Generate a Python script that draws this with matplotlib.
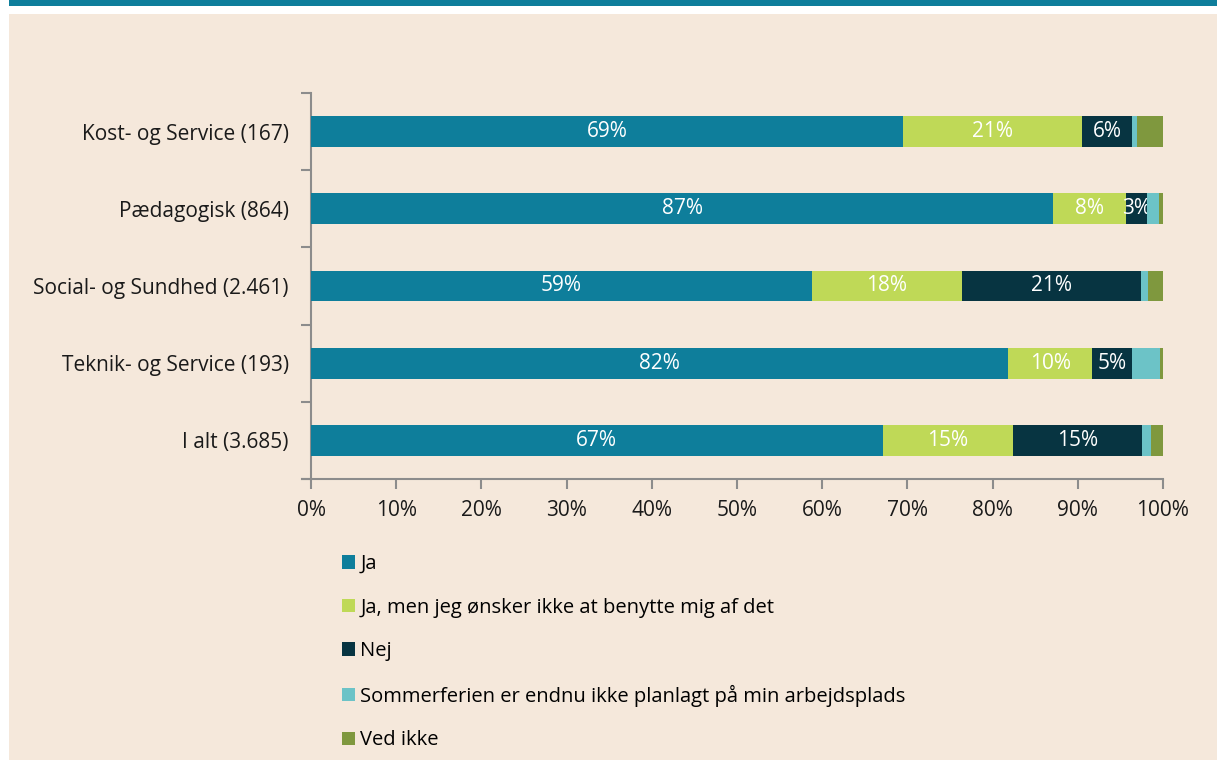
import matplotlib
matplotlib.use("Agg")
import matplotlib.pyplot as plt
from matplotlib.patches import Rectangle
from matplotlib.ticker import FixedLocator, PercentFormatter

categories = ["Kost- og Service (167)", "Pædagogisk (864)", "Social- og Sundhed (2.461)",
              "Teknik- og Service (193)", "I alt (3.685)"]
series_names = ["Ja", "Ja, men jeg ønsker ikke at benytte mig af det", "Nej",
                "Sommerferien er endnu ikke planlagt på min arbejdsplads", "Ved ikke"]
ja = [69.5, 87.1, 58.8, 81.8, 67.1]
ja_men = [21.0, 8.6, 17.6, 9.9, 15.3]
nej = [5.9, 2.4, 21.0, 4.7, 15.1]
sommer = [0.6, 1.4, 0.8, 3.2, 1.1]
ved_ikke = [3.0, 0.5, 1.8, 0.4, 1.4]
label_ja = ["69%", "87%", "59%", "82%", "67%"]
label_ja_men = ["21%", "8%", "18%", "10%", "15%"]
label_nej = ["6%", "3%", "21%", "5%", "15%"]
x_ticks = [0, 10, 20, 30, 40, 50, 60, 70, 80, 90, 100]

colors = ["#0E7E9B", "#BFD957", "#073441", "#6CC3C7", "#7F983E"]
bg = "#F5E8DB"

plt.rcParams['font.family'] = ['Open Sans', 'DejaVu Sans']
FS = 15

fig = plt.figure(figsize=(12.17, 7.63), dpi=100)
fig.patch.set_facecolor("white")
W, H = 1217, 763
fig.patches.append(Rectangle((9 / W, 1 - 760 / H), 1 - 9 / W, (760 - 14) / H, transform=fig.transFigure,
                             facecolor=bg, edgecolor="none", zorder=-10))
fig.patches.append(Rectangle((9 / W, 1 - 6 / H), 1 - 9 / W, 6 / H, transform=fig.transFigure,
                             facecolor="#0E7E9B", edgecolor="none", zorder=-10))

ax = fig.add_axes([311 / W, 1 - 479 / H, (1163 - 311) / W, (479 - 93) / H])
ax.set_facecolor("none")

data = [ja, ja_men, nej, sommer, ved_ikke]
labels = [label_ja, label_ja_men, label_nej, None, None]
ypos = list(range(len(categories)))
left = [0.0] * len(categories)
for vals, name, col, labs in zip(data, series_names, colors, labels):
    bars = ax.barh(ypos, vals, left=left, height=0.4, color=col, label=name, zorder=3)
    if labs is not None:
        ax.bar_label(bars, labels=labs, label_type="center", color="white", fontsize=FS)
    left = [l + v for l, v in zip(left, vals)]

ax.set_xlim(0, 100)
ax.set_ylim(4.5, -0.5)
ax.set_yticks(ypos)
ax.set_yticklabels(categories, fontsize=FS, color="#1a1a1a")
ax.yaxis.set_minor_locator(FixedLocator([i - 0.5 for i in range(len(categories) + 1)]))
ax.tick_params(axis="y", which="major", length=0, pad=16)
ax.tick_params(axis="y", which="minor", length=7, width=1.5, color="#8c8c8c")
ax.set_xticks(x_ticks)
ax.xaxis.set_major_formatter(PercentFormatter(decimals=0))
ax.tick_params(axis="x", length=7, width=1.5, color="#8c8c8c", labelsize=FS, pad=8, labelcolor="#1a1a1a")
for s in ["top", "right"]:
    ax.spines[s].set_visible(False)
for s in ["left", "bottom"]:
    ax.spines[s].set_color("#8c8c8c")
    ax.spines[s].set_linewidth(1.5)
ax.spines["bottom"].set_bounds(-1, 100)

handles, lbls = ax.get_legend_handles_labels()
leg = fig.legend(handles, lbls, loc="upper left", bbox_to_anchor=(334 / W, 1 - 546 / H),
                 ncol=1, frameon=False, fontsize=14.5, handlelength=0.65, handleheight=0.65,
                 handletextpad=0.25, labelspacing=1.17, borderaxespad=0)

fig.savefig("out.png", dpi=100, facecolor=fig.get_facecolor())
